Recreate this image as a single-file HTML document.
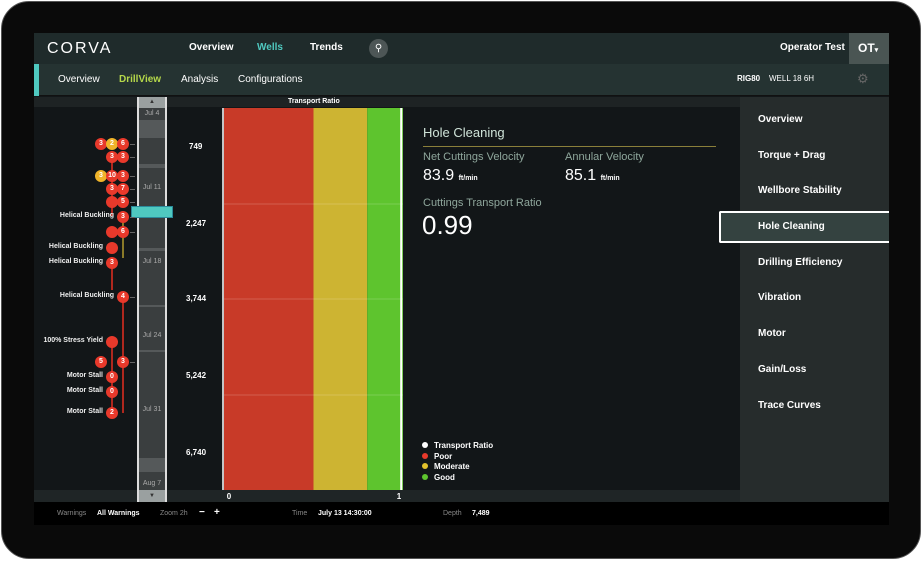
<!DOCTYPE html>
<html><head><meta charset="utf-8"><style>
*{margin:0;padding:0;box-sizing:border-box}
body{width:922px;height:561px;background:#fff;font-family:"Liberation Sans",sans-serif;position:relative;overflow:hidden}
.a{position:absolute}
.t{position:absolute;color:#fff;font-size:10px;font-weight:bold;white-space:nowrap}
.m{position:absolute;width:12px;height:12px;border-radius:50%;background:#e8392b;color:#fff;font-size:7px;font-weight:bold;text-align:center;line-height:12px}
.lbl{position:absolute;color:#eee;font-size:7px;font-weight:bold;white-space:nowrap;text-align:right;width:90px}
.menu{position:absolute;left:758px;color:#fff;font-size:10px;font-weight:bold}
.dl{position:absolute;left:186px;color:#fff;font-size:8px;font-weight:bold}
.dt{position:absolute;left:138px;width:28px;text-align:center;color:#aaa;font-size:7px}
</style></head><body>
<div class="a" style="left:1px;top:1px;width:920px;height:558px;background:#0a0a0a;border-radius:28px;border:1px solid #555"></div>
<div class="a" style="left:34px;top:33px;width:855px;height:492px;background:#121618"></div>
<div class="a" style="left:34px;top:33px;width:855px;height:31px;background:#1f2b2b"></div>
<div class="t" style="left:47px;top:40px;font-size:16px;font-weight:normal;letter-spacing:2px">CORVA</div>
<div class="t" style="left:189px;top:42px">Overview</div>
<div class="t" style="left:257px;top:42px;color:#4fc9c0">Wells</div>
<div class="t" style="left:310px;top:42px">Trends</div>
<div class="a" style="left:369px;top:39px;width:19px;height:19px;border-radius:50%;background:#4d5656;color:#fff;font-size:10px;text-align:center;line-height:19px">&#9906;</div>
<div class="t" style="left:780px;top:42px">Operator Test</div>
<div class="a" style="left:849px;top:33px;width:40px;height:31px;background:#4a5553;color:#fff;font-weight:bold;font-size:12px;line-height:31px;padding-left:9px">OT<span style="font-size:7px">▾</span></div>
<div class="a" style="left:34px;top:64px;width:855px;height:32px;background:#253332;border-bottom:1px solid #111"></div>
<div class="a" style="left:34px;top:64px;width:5px;height:32px;background:#4fc9c0"></div>
<div class="t" style="left:58px;top:74px;font-weight:normal">Overview</div>
<div class="t" style="left:119px;top:74px;color:#b5d84a">DrillView</div>
<div class="t" style="left:181px;top:74px;font-weight:normal">Analysis</div>
<div class="t" style="left:238px;top:74px;font-weight:normal">Configurations</div>
<div class="t" style="left:737px;top:74px;font-size:8px">RIG80</div>
<div class="t" style="left:769px;top:74px;font-size:8px;font-weight:normal">WELL 18 6H</div>
<div class="a" style="left:857px;top:71px;color:#666;font-size:13px">⚙</div>
<div class="a" style="left:34px;top:97px;width:706px;height:10px;background:#1e2324"></div>
<div class="t" style="left:288px;top:98px;font-size:7px">Transport Ratio</div>
<div class="a" style="left:740px;top:97px;width:149px;height:405px;background:#262c2c"></div>
<div class="menu" style="top:114px">Overview</div>
<div class="menu" style="top:150px">Torque + Drag</div>
<div class="menu" style="top:185px">Wellbore Stability</div>
<div class="a" style="left:719px;top:211px;width:170px;height:32px;background:#344240;border:2px solid #fff;border-right:none;border-radius:2px 0 0 2px;color:#fff;font-size:10px;font-weight:bold;padding:8px 0 0 37px">Hole Cleaning</div>
<div class="menu" style="top:257px">Drilling Efficiency</div>
<div class="menu" style="top:292px">Vibration</div>
<div class="menu" style="top:328px">Motor</div>
<div class="menu" style="top:364px">Gain/Loss</div>
<div class="menu" style="top:400px">Trace Curves</div>
<div class="a" style="left:423px;top:125px;color:#cfe3d8;font-size:13px">Hole Cleaning</div>
<div class="a" style="left:423px;top:146px;width:293px;height:1px;background:#8a7f3a"></div>
<div class="a" style="left:423px;top:151px;color:#8fa79c;font-size:11px">Net Cuttings Velocity</div>
<div class="a" style="left:423px;top:167px;color:#fff;font-size:16px">83.9 <span style="font-size:7px;font-weight:bold">ft/min</span></div>
<div class="a" style="left:565px;top:151px;color:#8fa79c;font-size:11px">Annular Velocity</div>
<div class="a" style="left:565px;top:167px;color:#fff;font-size:16px">85.1 <span style="font-size:7px;font-weight:bold">ft/min</span></div>
<div class="a" style="left:423px;top:197px;color:#8fa79c;font-size:11px">Cuttings Transport Ratio</div>
<div class="a" style="left:422px;top:210px;color:#fff;font-size:26px">0.99</div>
<div id="legend" class="a" style="left:422px;top:441px"></div>
<div class="a" style="left:34px;top:490px;width:706px;height:12px;background:#1f2526"></div>
<div class="a" style="left:137px;top:97px;width:30px;height:405px;background:#3a3e3f;border-left:2px solid #ddd;border-right:2px solid #ddd"></div>
<div class="a" style="left:139px;top:97px;width:26px;height:11px;background:#9aa0a0;color:#333;font-size:6px;text-align:center;line-height:11px">▲</div>
<div class="a" style="left:139px;top:490px;width:26px;height:12px;background:#9aa0a0;color:#333;font-size:6px;text-align:center;line-height:12px">▼</div>
<div class="a" style="left:139px;top:120px;width:26px;height:18px;background:#55595a"></div>
<div class="a" style="left:139px;top:164px;width:26px;height:4px;background:#55595a"></div>
<div class="a" style="left:139px;top:248px;width:26px;height:3px;background:#55595a"></div>
<div class="a" style="left:139px;top:305px;width:26px;height:2px;background:#55595a"></div>
<div class="a" style="left:139px;top:350px;width:26px;height:2px;background:#55595a"></div>
<div class="a" style="left:139px;top:458px;width:26px;height:14px;background:#55595a"></div>
<div class="dt" style="top:110px">Jul 4</div>
<div class="dt" style="top:184px">Jul 11</div>
<div class="dt" style="top:258px">Jul 18</div>
<div class="dt" style="top:332px">Jul 24</div>
<div class="dt" style="top:406px">Jul 31</div>
<div class="dt" style="top:480px">Aug 7</div>
<div class="a" style="left:131px;top:206px;width:42px;height:12px;background:#4fc9c0;border:1px solid #2a8a9a"></div>
<div class="dl" style="top:142px;left:189px">749</div>
<div class="dl" style="top:219px">2,247</div>
<div class="dl" style="top:294px">3,744</div>
<div class="dl" style="top:371px">5,242</div>
<div class="dl" style="top:448px">6,740</div>
<div id="events" class="a" style="left:0;top:0"></div>
<svg id="chart" class="a" style="left:0;top:0" width="922" height="561"></svg>
<div class="a" style="left:34px;top:502px;width:855px;height:23px;background:#000"></div>
<div class="a" style="left:57px;top:510px;color:#888;font-size:7px">Warnings</div>
<div class="t" style="left:97px;top:510px;font-size:7px">All Warnings</div>
<div class="a" style="left:160px;top:510px;color:#888;font-size:7px">Zoom 2h</div>
<div class="t" style="left:199px;top:507px">−</div>
<div class="t" style="left:214px;top:507px">+</div>
<div class="a" style="left:292px;top:510px;color:#888;font-size:7px">Time</div>
<div class="t" style="left:318px;top:510px;font-size:7px">July 13 14:30:00</div>
<div class="a" style="left:443px;top:510px;color:#888;font-size:7px">Depth</div>
<div class="t" style="left:472px;top:510px;font-size:7px">7,489</div>
<script>
const zoneNames=["Poor","Moderate","Good"];
const zoneStarts=[0,0.5,0.8];
const zoneEnds=[0.5,0.8,1];
const zoneColors=["#c83a28","#cdb432","#5ec42e"];
const transportRatio=[0.99];
const xTicks=[0,1];
const NS="http://www.w3.org/2000/svg";
const svg=document.getElementById('chart');
const X0=224,X1=403,Y0=108,Y1=490;
function xs(v){return X0+(X1-X0)*v;}
zoneNames.forEach((n,i)=>{
  const r=document.createElementNS(NS,'rect');
  r.setAttribute('x',xs(zoneStarts[i]));r.setAttribute('y',Y0);
  r.setAttribute('width',xs(zoneEnds[i])-xs(zoneStarts[i]));r.setAttribute('height',Y1-Y0);
  r.setAttribute('fill',zoneColors[i]);
  
  
  svg.appendChild(r);
});
[204,299,395].forEach(y=>{
  const l=document.createElementNS(NS,'line');
  l.setAttribute('x1',X0);l.setAttribute('x2',X1);l.setAttribute('y1',y);l.setAttribute('y2',y);
  l.setAttribute('stroke','rgba(255,255,255,0.18)');
  
  
  svg.appendChild(l);
});
const lb=document.createElementNS(NS,'line');
lb.setAttribute('x1',223);lb.setAttribute('x2',223);lb.setAttribute('y1',Y0);lb.setAttribute('y2',Y1);
lb.setAttribute('stroke','#fff');lb.setAttribute('stroke-width','1.5');


svg.appendChild(lb);
transportRatio.forEach(v=>{
  const l=document.createElementNS(NS,'line');
  const x=xs(v);
  l.setAttribute('x1',x);l.setAttribute('x2',x);l.setAttribute('y1',Y0);l.setAttribute('y2',Y1);
  l.setAttribute('stroke','#fff');l.setAttribute('stroke-width','2');
  
  
  svg.appendChild(l);
});
xTicks.forEach(v=>{
  const t=document.createElementNS(NS,'text');
  t.setAttribute('x',v===0?xs(v)+5:xs(v)-4);t.setAttribute('y',499);
  t.setAttribute('fill','#fff');t.setAttribute('font-size','8');t.setAttribute('font-weight','bold');
  t.setAttribute('font-family','Liberation Sans, sans-serif');t.setAttribute('text-anchor','middle');
  t.textContent=v;
  
  
  svg.appendChild(t);
});
const legNames=["Transport Ratio","Poor","Moderate","Good"];
const legColors=["#fff","#e8392b","#e3c22c","#5ec42e"];
const leg=document.getElementById('legend');
legNames.forEach((n,i)=>{
  const d=document.createElement('div');
  
  
  d.style.cssText='position:absolute;left:0;top:'+(i*10.7)+'px;white-space:nowrap;color:#fff;font-size:8px;font-weight:bold';
  d.innerHTML='<span style="display:inline-block;width:6px;height:6px;border-radius:50%;background:'+legColors[i]+';margin-right:6px"></span>'+n;
  leg.appendChild(d);
});
const ev=document.getElementById('events');
function vline(x,y1,y2,c){const d=document.createElement('div');d.className='a';


d.style.cssText='left:'+(x-1)+'px;top:'+y1+'px;width:2px;height:'+(y2-y1)+'px;background:'+c;ev.appendChild(d);}
vline(112,157,216,'#b0281e');vline(112,263,290,'#b0281e');vline(112,342,413,'#b0281e');
vline(123,217,258,'#8a7a28');vline(123,297,413,'#b0281e');
const marks=[[101,144,'3','r'],[112,144,'2','y'],[123,144,'6','r'],[112,157,'3','r'],[123,157,'3','r'],
[101,176,'3','y'],[112,176,'10','r'],[123,176,'3','r'],[112,189,'3','r'],[123,189,'7','r'],[112,202,'','r'],[123,202,'5','r'],
[123,217,'3','r'],[112,232,'','r'],[123,232,'6','r'],[112,248,'','r'],[112,263,'3','r'],[123,297,'4','r'],
[112,342,'','r'],[101,362,'5','r'],[123,362,'3','r'],[112,377,'0','r'],[112,392,'0','r'],[112,413,'2','r']];
marks.forEach(m=>{const d=document.createElement('div');d.className='m';


d.style.left=(m[0]-6)+'px';d.style.top=(m[1]-6)+'px';if(m[3]==='y')d.style.background='#f0b429';d.textContent=m[2];ev.appendChild(d);
const t=document.createElement('div');t.className='a';


t.style.cssText='left:'+(m[0]+7)+'px;top:'+m[1]+'px;width:5px;height:1px;background:#666';if(m[0]===123)ev.appendChild(t);});
const labels=[[123,217,'Helical Buckling'],[112,248,'Helical Buckling'],[112,263,'Helical Buckling'],[123,297,'Helical Buckling'],
[112,342,'100% Stress Yield'],[112,377,'Motor Stall'],[112,392,'Motor Stall'],[112,413,'Motor Stall']];
labels.forEach(l=>{const d=document.createElement('div');d.className='lbl';


d.style.left=(l[0]-99)+'px';d.style.top=(l[1]-5)+'px';d.textContent=l[2];ev.appendChild(d);});
</script>
</body></html>
